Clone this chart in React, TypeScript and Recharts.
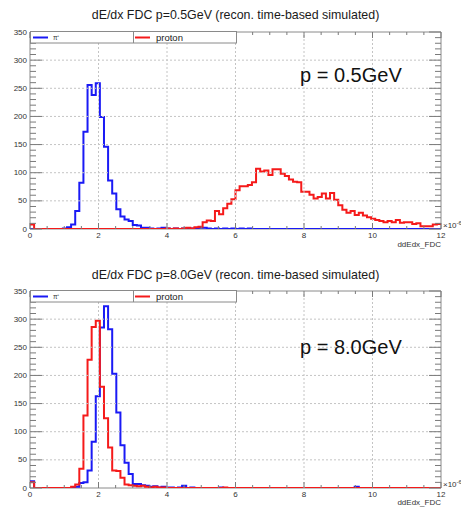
import React from 'react';
import { LineChart, Line, XAxis, YAxis, ReferenceArea } from 'recharts';

// Bin layout: 100 bins of width 0.12 (x10^-6) from 0 to 12
const BIN_WIDTH = 0.12;

// p = 0.5 GeV
const pi05 = [
  0, 0, 0, 0, 0, 0, 0, 0,
  1, 3, 8, 32, 82, 173, 256, 238,
  259, 199, 146, 86, 63, 35, 22, 17,
  14, 7, 6, 2, 2, 1, 0, 1,
  2, 1, 0, 1, 0, 1, 0, 1,
  1, 2, 2, 1, 0, 1, 0, 1,
  0, 1, 0, 1, 0, 1, 0, 0,
  0, 0, 0, 0, 0, 0, 0, 0,
  0, 0, 0, 0, 0, 0, 0, 0,
  0, 0, 0, 0, 0, 0, 0, 0,
  0, 0, 0, 0, 0, 0, 0, 0,
  0, 0, 0, 0, 0, 0, 0, 0,
  0, 0, 0, 0,
];
const proton05 = [
  8, 0, 0, 0, 0, 0, 0, 0,
  0, 0, 0, 0, 0, 0, 0, 0,
  0, 0, 0, 0, 0, 0, 0, 0,
  0, 0, 0, 0, 0, 0, 0, 0,
  0, 1, 0, 1, 0, 1, 2, 1,
  3, 4, 12, 15, 14, 32, 26, 37,
  45, 53, 69, 76, 76, 78, 83, 107,
  102, 104, 96, 106, 106, 98, 94, 88,
  84, 83, 66, 66, 61, 54, 57, 63,
  54, 64, 52, 42, 34, 29, 32, 25,
  29, 24, 21, 18, 16, 14, 12, 14,
  12, 16, 11, 12, 12, 9, 10, 5,
  5, 5, 8, 9,
];

// p = 8.0 GeV
const pi80 = [
  12, 0, 0, 0, 0, 0, 0, 0,
  0, 0, 0, 2, 9, 10, 31, 82,
  163, 285, 323, 282, 203, 134, 76, 45,
  25, 7, 7, 5, 4, 2, 3, 1,
  2, 1, 1, 0, 1, 4, 0, 1,
  0, 0, 0, 0, 0, 0, 1, 0,
  0, 0, 0, 0, 0, 0, 0, 0,
  0, 0, 0, 0, 0, 0, 0, 0,
  0, 0, 0, 0, 0, 0, 0, 0,
  0, 0, 0, 0, 0, 0, 0, 2,
  0, 0, 0, 0, 0, 0, 0, 0,
  0, 0, 0, 0, 0, 0, 0, 0,
  0, 0, 0, 0,
];
const proton80 = [
  10, 0, 0, 0, 0, 0, 0, 0,
  0, 0, 2, 6, 34, 129, 228, 286,
  297, 180, 124, 72, 31, 30, 18, 6,
  5, 4, 3, 4, 2, 1, 2, 1,
  1, 0, 0, 0, 0, 0, 0, 0,
  0, 0, 0, 0, 0, 0, 0, 1,
  0, 0, 0, 0, 0, 0, 0, 0,
  0, 0, 0, 0, 0, 0, 0, 0,
  0, 0, 0, 0, 0, 0, 0, 0,
  0, 0, 0, 0, 0, 0, 0, 0,
  0, 0, 0, 0, 0, 0, 0, 0,
  0, 0, 0, 0, 0, 0, 0, 0,
  0, 0, 0, 0,
];

const X_TICKS = [0, 0.5, 1, 1.5, 2, 2.5, 3, 3.5, 4, 4.5, 5, 5.5, 6, 6.5, 7, 7.5, 8, 8.5, 9, 9.5, 10, 10.5, 11, 11.5, 12];
const Y_TICKS = [0, 10, 20, 30, 40, 50, 60, 70, 80, 90, 100, 110, 120, 130, 140, 150, 160, 170, 180, 190, 200, 210, 220, 230, 240, 250, 260, 270, 280, 290, 300, 310, 320, 330, 340, 350];

const TITLES = [
  'dE/dx FDC p=0.5GeV (recon. time-based simulated)',
  'dE/dx FDC p=8.0GeV (recon. time-based simulated)',
];
const MOMENTUM_LABELS = ['p = 0.5GeV', 'p = 8.0GeV'];
const SERIES_NAMES = ['\u03c0\u207a', 'proton'];
const X_TITLE = 'ddEdx_FDC';

const W = 461;
const PANEL_H = 259;
const PT = 32; // plot top within panel
const PL = 30;
const PR = 441;
const FONT = '"Liberation Sans", Arial, Helvetica, sans-serif';
const BLUE = '#1a1af5';
const RED = '#f51a1a';
const TICK = '#7a7a7a';
const GRID = '#c4c4c4';
const LABEL = '#333';

function buildData(pi: number[], proton: number[]) {
  const rows = pi.map((v, i) => ({ x: Number((i * BIN_WIDTH).toFixed(2)), pi: v, proton: proton[i] }));
  rows.push({ x: 12, pi: pi[pi.length - 1], proton: proton[proton.length - 1] });
  return rows;
}

const XTick = (props: any) => {
  const { x, y, payload } = props;
  const v = payload.value as number;
  const major = Math.abs(v % 2) < 1e-9;
  const len = major ? 6 : 3;
  return (
    <g>
      {major && v > 0 && v < 12 && (
        <line x1={x} x2={x} y1={y} y2={PT} stroke={GRID} strokeDasharray="2 2" />
      )}
      <line x1={x} x2={x} y1={y} y2={y - len} stroke={TICK} />
      <line x1={x} x2={x} y1={PT} y2={PT + len} stroke={TICK} />
      {major && (
        <text x={x} y={y + 8.5} textAnchor="middle" fontSize={8} fill={LABEL} fontFamily={FONT}>
          {v}
        </text>
      )}
    </g>
  );
};

const YTick = (props: any) => {
  const { x, y, payload } = props;
  const v = payload.value as number;
  const major = v % 50 === 0;
  const len = major ? 12 : 6;
  return (
    <g>
      {major && v > 0 && v < 350 && (
        <line x1={x} x2={PR} y1={y} y2={y} stroke={GRID} strokeDasharray="2 2" />
      )}
      <line x1={x} x2={x + len} y1={y} y2={y} stroke={TICK} />
      <line x1={PR} x2={PR - len} y1={y} y2={y} stroke={TICK} />
      {major && (
        <text x={x - 3} y={y + 2.5} textAnchor="end" fontSize={8} fill={LABEL} fontFamily={FONT}>
          {v}
        </text>
      )}
    </g>
  );
};

function Panel({ pi, proton }: { pi: number[]; proton: number[] }) {
  const data = buildData(pi, proton);
  return (
    <LineChart width={W} height={PANEL_H} data={data} margin={{ top: PT, right: W - PR, left: 0, bottom: 0 }}>
      <XAxis
        dataKey="x"
        type="number"
        domain={[0, 12]}
        ticks={X_TICKS}
        interval={0}
        tick={XTick}
        tickLine={false}
        axisLine={false}
        tickSize={0}
        tickMargin={0}
        height={30}
        allowDataOverflow
      />
      <YAxis
        type="number"
        domain={[0, 350]}
        ticks={Y_TICKS}
        interval={0}
        tick={YTick}
        tickLine={false}
        axisLine={false}
        tickSize={0}
        tickMargin={0}
        width={PL}
        allowDataOverflow
      />
      <ReferenceArea x1={0} x2={12} y1={0} y2={350} fill="none" fillOpacity={0} stroke="#8a8a8a" strokeWidth={1} />
      <Line dataKey="pi" type="stepAfter" stroke={BLUE} strokeWidth={2} dot={false} isAnimationActive={false} />
      <Line dataKey="proton" type="stepAfter" stroke={RED} strokeWidth={2} dot={false} isAnimationActive={false} />
    </LineChart>
  );
}

function Overlay() {
  const offsets = [0, 259];
  const titleBase = [19, 279];
  const momBase = [82, 354];
  const xTitleBase = [246.5, 504.5];
  const expBase = [228, 487];
  return (
    <svg width={W} height={507} style={{ position: 'absolute', left: 0, top: 0, pointerEvents: 'none' }}>
      {offsets.map((off, k) => {
        const top = off + PT;
        return (
          <g key={k} fontFamily={FONT}>
            <text x={(PL + PR) / 2} y={titleBase[k]} textAnchor="middle" fontSize={12.4} fill="#1a1a1a">
              {TITLES[k]}
            </text>
            <text x={300} y={momBase[k]} fontSize={20} fill="#111">
              {MOMENTUM_LABELS[k]}
            </text>
            <rect x={PL + 0.5} y={top - 0.5} width={206} height={11.5} fill="#fff" stroke="#8a8a8a" />
            <line x1={133.5} x2={133.5} y1={top} y2={top + 11} stroke="#8a8a8a" />
            <line x1={33} x2={48} y1={top + 5.5} y2={top + 5.5} stroke={BLUE} strokeWidth={2} />
            <text x={53} y={top + 8} fontSize={6.5} fill="#333">{SERIES_NAMES[0]}</text>
            <line x1={135} x2={150} y1={top + 5.5} y2={top + 5.5} stroke={RED} strokeWidth={2} />
            <text x={156} y={top + 9} fontSize={9.5} fill="#222">{SERIES_NAMES[1]}</text>
            <text x={443} y={expBase[k]} fontSize={8} fill={LABEL}>
              ×10
            </text>
            <text x={456.5} y={expBase[k] - 3.5} fontSize={6} fill={LABEL}>
              -6
            </text>
            <text x={PR} y={xTitleBase[k]} textAnchor="end" fontSize={8} fill={LABEL}>
              {X_TITLE}
            </text>
          </g>
        );
      })}
    </svg>
  );
}

export default function App() {
  return (
    <div style={{ position: 'absolute', left: 0, top: 0, width: W, height: 507, background: '#fff', fontFamily: FONT }}>
      <div style={{ position: 'absolute', left: 0, top: 0 }}>
        <Panel pi={pi05} proton={proton05} />
      </div>
      <div style={{ position: 'absolute', left: 0, top: PANEL_H }}>
        <Panel pi={pi80} proton={proton80} />
      </div>
      <Overlay />
    </div>
  );
}
